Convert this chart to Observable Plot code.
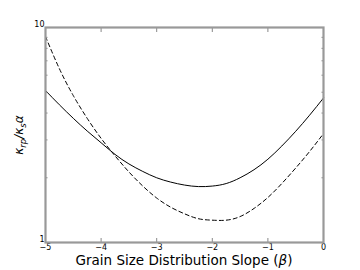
<!DOCTYPE html>
<html>
<head>
<meta charset="utf-8">
<script src="https://cdn.jsdelivr.net/npm/d3@7"></script>
<script src="https://cdn.jsdelivr.net/npm/@observablehq/plot@0.6"></script>
<style>
  html, body { margin: 0; padding: 0; background: #fff; }
  #chart svg { display: block; }
</style>
</head>
<body>
<div id="chart"></div>
<script>
const beta = [-5, -4.75, -4.5, -4.25, -4, -3.75, -3.5, -3.25, -3, -2.75, -2.5, -2.25, -2, -1.75, -1.5, -1.25, -1, -0.75, -0.5, -0.25, 0];
const solidVals = [5.09, 4.37, 3.78, 3.30, 2.91, 2.57, 2.32, 2.14, 2.0, 1.91, 1.85, 1.82, 1.83, 1.88, 2.0, 2.18, 2.44, 2.81, 3.29, 3.91, 4.70];
const dashedVals = [9.08, 6.43, 4.82, 3.78, 3.05, 2.53, 2.13, 1.83, 1.61, 1.46, 1.36, 1.29, 1.27, 1.27, 1.32, 1.44, 1.62, 1.88, 2.22, 2.65, 3.21];
const xTicks = [-5, -4, -3, -2, -1, 0];
const xTickLabels = ["\u22125", "\u22124", "\u22123", "\u22122", "\u22121", "0"];
const yMinorTicks = [2, 3, 4, 5, 6, 7, 8, 9];
const yLabelTicks = [1, 10];

const solid = beta.map((b, i) => ({b, v: solidVals[i]}));
const dashed = beta.map((b, i) => ({b, v: dashedVals[i]}));

const font = "DejaVu Sans, sans-serif";
const tickColor = "#888";

const plot = Plot.plot({
  width: 360,
  height: 270,
  marginLeft: 45,
  marginRight: 37,
  marginTop: 27,
  marginBottom: 28,
  style: {fontFamily: font, background: "#fff"},
  x: {domain: [-5, 0]},
  y: {type: "log", domain: [1, 10]},
  marks: [
    Plot.line(solid, {x: "b", y: "v", stroke: "#000", strokeWidth: 1, curve: "natural"}),
    Plot.line(dashed, {x: "b", y: "v", stroke: "#000", strokeWidth: 1, strokeDasharray: "4,3", curve: "natural"}),
    Plot.axisX({anchor: "bottom", ticks: xTicks, tickSize: -4, stroke: tickColor, text: null, label: null}),
    Plot.axisX({anchor: "top", ticks: xTicks, tickSize: -4, stroke: tickColor, text: null, label: null}),
    Plot.axisY({anchor: "left", ticks: yMinorTicks, tickSize: -2.5, stroke: tickColor, text: null, label: null}),
    Plot.axisY({anchor: "right", ticks: yMinorTicks, tickSize: -2.5, stroke: tickColor, text: null, label: null}),
    Plot.axisX({anchor: "bottom", ticks: xTicks, tickSize: 0, tickPadding: 2, fontSize: 8,
      tickFormat: (d) => xTickLabels[xTicks.indexOf(d)], label: null, fill: "#000"}),
    Plot.axisY({anchor: "left", ticks: yLabelTicks, tickSize: 0, tickPadding: 1, fontSize: 8, dy: -3,
      tickFormat: (d) => String(d), label: null, fill: "#000"}),
    Plot.frame({stroke: "#999", strokeWidth: 2.2})
  ]
});

document.getElementById("chart").appendChild(plot);

const svg = d3.select(plot);
svg.append("text")
  .attr("x", (45 + 323) / 2)
  .attr("y", 265)
  .attr("text-anchor", "middle")
  .attr("font-family", font)
  .attr("font-size", 13.5)
  .attr("fill", "#000")
  .call(t => {
    t.append("tspan").text("Grain Size Distribution Slope (");
    t.append("tspan").attr("font-style", "italic").text("\u03B2");
    t.append("tspan").text(")");
  });

svg.append("text")
  .attr("transform", "translate(23,135) rotate(-90)")
  .attr("text-anchor", "middle")
  .attr("font-family", font)
  .attr("font-size", 12)
  .attr("font-style", "italic")
  .attr("fill", "#000")
  .call(t => {
    t.append("tspan").text("\u03BA");
    t.append("tspan").attr("font-size", 8.5).attr("dy", 3).text("rp");
    t.append("tspan").attr("dy", -3).text("/\u03BA");
    t.append("tspan").attr("font-size", 8.5).attr("dy", 3).text("s");
    t.append("tspan").attr("dy", -3).text("\u03B1");
  });
</script>
</body>
</html>
